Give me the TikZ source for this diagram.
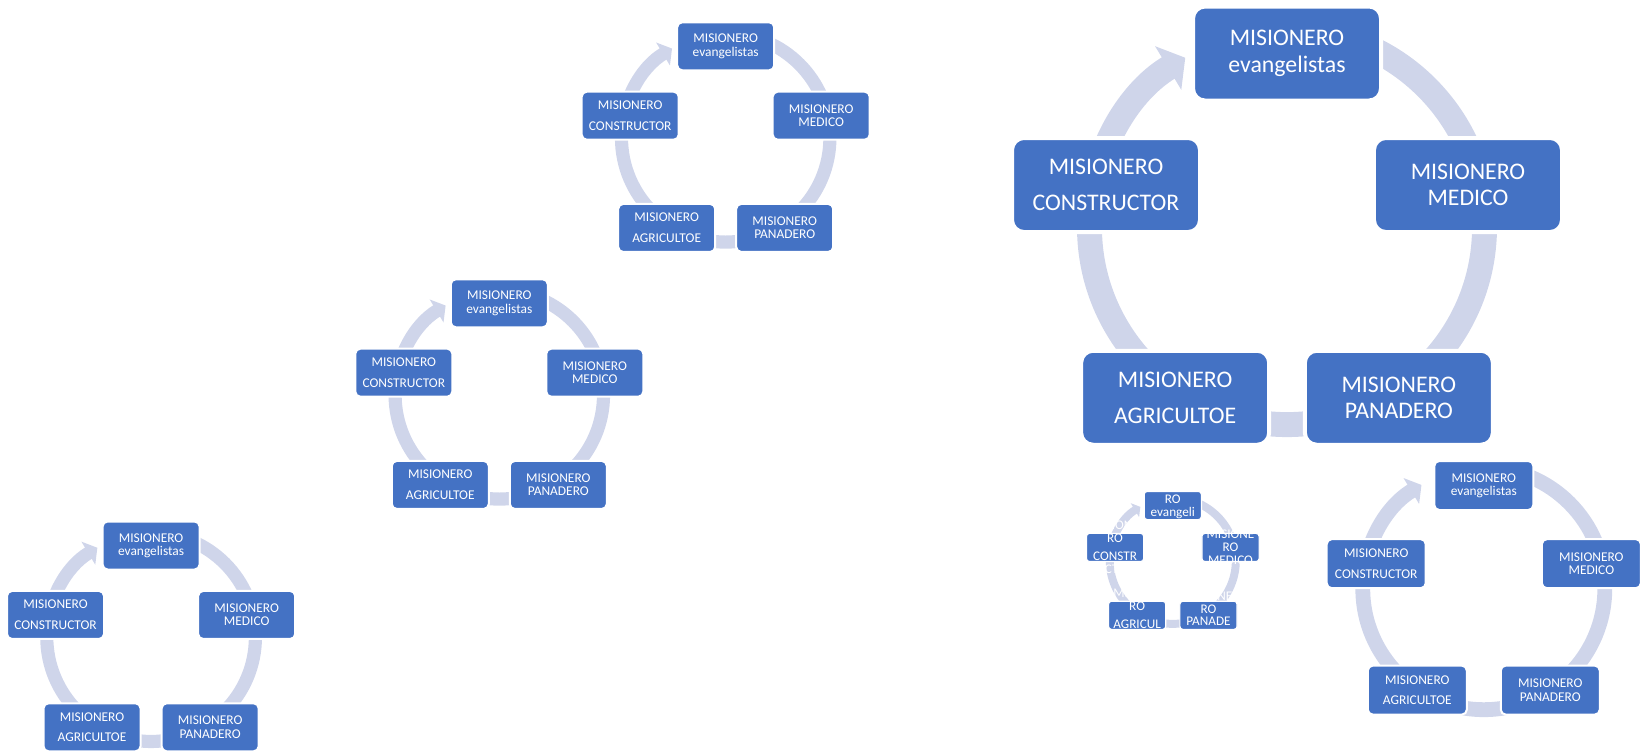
\documentclass[tikz,border=0pt]{standalone}
\usepackage{fontspec}
\setmainfont{Carlito}
\usepackage{xcolor}
\usepackage{tikz}
\usetikzlibrary{calc,arrows.meta}
\definecolor{azul}{HTML}{4472C4}
\definecolor{celeste}{HTML}{CFD5EA}

% anillo con flecha: #1 centro, #2 radio, #3 factor del anillo
\newcommand{\anillo}[3]{%
  \pgfmathsetmacro{\grosor}{0.0655*#2}
  \coordinate (#1-c) at ($(#1)+(0,0.088*#2)$);
  \draw[anillo, line width=\grosor pt] ($(#1-c)+(90:#3*#2)$)
    arc[start angle=90, end angle=-239, radius=#3*#2];
}
% ciclo de cinco cajas: #1 nombre, #2 centro, #3 radio, #4 factor, #5 estilo, #6 salto
\newcommand{\ciclo}[6]{%
  \coordinate (#1) at #2;
  \anillo{#1}{#3}{#4}
  \node[#5] (#1-ev)  at ($(#1)+(90:#3)$)   {MISIONERO\\evangelistas};
  \node[#5] (#1-med) at ($(#1)+(18:#3)$)   {MISIONERO\\MEDICO};
  \node[#5] (#1-pan) at ($(#1)+(-54:#3)$)  {MISIONERO\\PANADERO};
  \node[#5] (#1-agr) at ($(#1)+(-126:#3)$) {MISIONERO\\[#6]AGRICULTOE};
  \node[#5] (#1-con) at ($(#1)+(162:#3)$)  {MISIONERO\\[#6]CONSTRUCTOR};
}

\begin{document}
\begin{tikzpicture}[x=0.5pt, y=0.5pt,
      anillo/.style={draw=celeste, -{Triangle[length=0pt 0.8, width=0pt 2]}},
      caja/.style={draw=white, fill=azul, text=white, align=center, inner sep=0pt},
      chica/.style={caja, line width=1pt, minimum width=48.5pt, minimum height=24pt,
                    rounded corners=2.5pt, font=\fontsize{6.7}{6.7}\selectfont},
      media/.style={chica, minimum width=49.5pt, minimum height=24.5pt},
      grande/.style={caja, line width=2pt, minimum width=94pt, minimum height=47pt,
                     rounded corners=6pt, font=\fontsize{11.9}{13.3}\selectfont},
      mini/.style={caja, line width=0.6pt, minimum width=28.6pt, minimum height=14.1pt,
                   rounded corners=1.5pt},
      txtmini/.style={text=white, align=center, inner sep=0pt,
                      font=\fontsize{6.6}{6.35}\selectfont}]
  \useasboundingbox (0,0) rectangle (1640,-751);
  \ciclo{A}{(725.7,-146.7)}{100.4}{1.038}{chica}{3.6pt}
  \ciclo{B}{(499.3,-403.7)}{100.4}{1.038}{chica}{3.6pt}
  \ciclo{C}{(151.1,-646)}{100.5}{1.038}{chica}{3.6pt}
  \ciclo{D}{(1287,-243.8)}{190.3}{1.038}{grande}{5pt}
  \ciclo{E}{(1483.8,-598.6)}{113.1}{1.07}{media}{3.6pt}
  % el ciclo diminuto, el texto se sale de las cajas
  \coordinate (F) at (1172.8,-566.2);
  \anillo{F}{60.7}{1.038}
  \node[mini, label={[txtmini]center:{MISIONE\\RO\\evangeli\\stas}}] (F-ev) at ($(F)+(90:60.7)$) {};
  \node[mini, label={[txtmini]center:{MISIONE\\RO\\MEDICO}}] (F-med) at ($(F)+(18:60.7)$) {};
  \node[mini, label={[txtmini]center:{MISIONE\\RO\\PANADE\\RO}}] (F-pan) at ($(F)+(-54:60.7)$) {};
  \node[mini, label={[txtmini]center:{MISIONE\\RO\\[2.8pt]AGRICUL\\TOE}}] (F-agr) at ($(F)+(-126:60.7)$) {};
  \node[mini, label={[txtmini]center:{MISIONE\\RO\\[2.8pt]CONSTR\\UCTOR}}] (F-con) at ($(F)+(162:60.7)$) {};
\end{tikzpicture}
\end{document}
